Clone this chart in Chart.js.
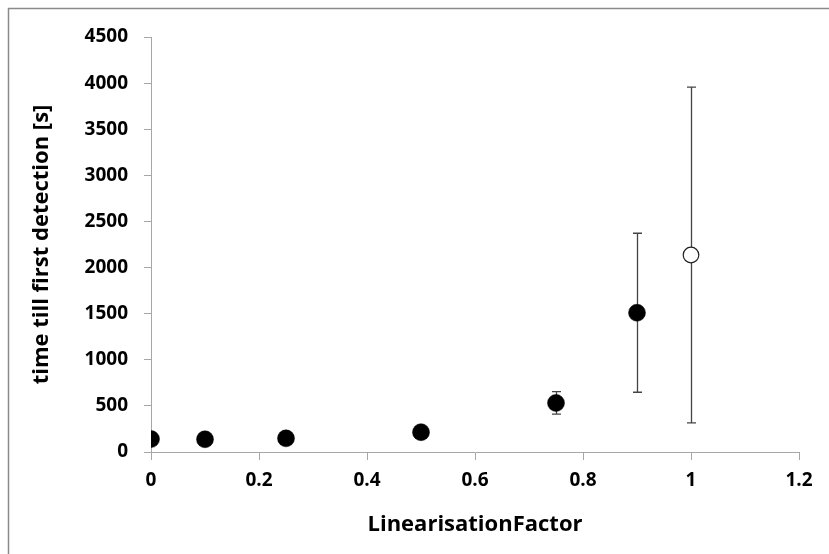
<!DOCTYPE html>
<html>
<head>
<meta charset="utf-8">
<script src="https://cdn.jsdelivr.net/npm/chart.js@4"></script>
<style>
  html, body { margin: 0; padding: 0; background: #fff; }
  #wrap { width: 829px; height: 554px; }
</style>
</head>
<body>
<div id="wrap"><canvas id="chart" width="829" height="554"></canvas></div>
<script>
// filled markers
const factor = [0, 0.1, 0.25, 0.5, 0.75, 0.9];
const detectTime = [140, 138, 148, 215, 532, 1510];
const detectErr = [0, 0, 0, 0, 122, 862];
// open marker
const factorOpen = [1];
const detectTimeOpen = [2136];
const detectErrOpen = [1821];

const xTicks = [0, 0.2, 0.4, 0.6, 0.8, 1, 1.2];
const yTicks = [0, 500, 1000, 1500, 2000, 2500, 3000, 3500, 4000, 4500];

const FONT = "'Open Sans', Lato, sans-serif";

function toPoints(xs, ys, es) {
  return xs.map((x, i) => ({ x: x, y: ys[i], err: es[i] }));
}

// outer frame, top and left edges visible
const framePlugin = {
  id: "frame",
  beforeDraw(chart) {
    const ctx = chart.ctx;
    ctx.save();
    ctx.strokeStyle = "#8a8a8a";
    ctx.lineWidth = 1.5;
    ctx.beginPath();
    ctx.moveTo(8.5, chart.height);
    ctx.lineTo(8.5, 8.5);
    ctx.lineTo(chart.width, 8.5);
    ctx.stroke();
    ctx.restore();
  }
};

// error bars, drawn under the markers
const errorBars = {
  id: "errorBars",
  beforeDatasetsDraw(chart) {
    const ctx = chart.ctx;
    const xs = chart.scales.x, ys = chart.scales.y;
    ctx.save();
    ctx.strokeStyle = "#444";
    ctx.lineWidth = 1.3;
    chart.data.datasets.forEach(ds => {
      ds.data.forEach(p => {
        if (!p.err) return;
        const px = Math.round(xs.getPixelForValue(p.x)) + 0.5;
        const top = ys.getPixelForValue(p.y + p.err);
        const bot = ys.getPixelForValue(p.y - p.err);
        ctx.beginPath();
        ctx.moveTo(px, top);
        ctx.lineTo(px, bot);
        ctx.moveTo(px - 4.5, top);
        ctx.lineTo(px + 4.5, top);
        ctx.moveTo(px - 4.5, bot);
        ctx.lineTo(px + 4.5, bot);
        ctx.stroke();
      });
    });
    ctx.restore();
  }
};

new Chart(document.getElementById("chart"), {
  type: "scatter",
  data: {
    datasets: [
      {
        label: "filled",
        data: toPoints(factor, detectTime, detectErr),
        pointRadius: 8.5,
        pointBackgroundColor: "#000",
        pointBorderColor: "#000",
        pointBorderWidth: 0.5
      },
      {
        label: "open",
        data: toPoints(factorOpen, detectTimeOpen, detectErrOpen),
        pointRadius: 7.8,
        pointBackgroundColor: "#fff",
        pointBorderColor: "#222",
        pointBorderWidth: 1.2
      }
    ]
  },
  options: {
    responsive: false,
    animation: false,
    layout: { padding: { top: 37, right: 30, left: 0, bottom: 0 } },
    plugins: {
      legend: { display: false },
      tooltip: { enabled: false }
    },
    scales: {
      x: {
        type: "linear",
        min: 0,
        max: 1.2,
        afterBuildTicks: s => { s.ticks = xTicks.map(v => ({ value: v })); },
        afterFit: s => { s.height = 102; },
        grid: { drawOnChartArea: false, drawTicks: true, tickLength: 8, color: "#a6a6a6" },
        border: { color: "#a6a6a6", width: 1 },
        ticks: {
          color: "#000",
          padding: 9,
          font: { family: FONT, size: 19, weight: "bold" },
          callback: v => String(v)
        },
        title: {
          display: true,
          text: "LinearisationFactor",
          color: "#000",
          padding: { top: 0, bottom: 16 },
          font: { family: FONT, size: 22, weight: "bold" }
        }
      },
      y: {
        min: 0,
        max: 4500,
        afterBuildTicks: s => { s.ticks = yTicks.map(v => ({ value: v })); },
        afterFit: s => { s.width = 151; },
        grid: { drawOnChartArea: false, drawTicks: true, tickLength: 7, color: "#a6a6a6" },
        border: { color: "#a6a6a6", width: 1 },
        ticks: {
          color: "#000",
          padding: 16,
          font: { family: FONT, size: 19, weight: "bold" },
          callback: v => String(v)
        },
        title: {
          display: true,
          text: "time till first detection [s]",
          color: "#000",
          padding: { top: 29, bottom: 0 },
          font: { family: FONT, size: 22, weight: "bold" }
        }
      }
    }
  },
  plugins: [framePlugin, errorBars]
});
</script>
</body>
</html>
